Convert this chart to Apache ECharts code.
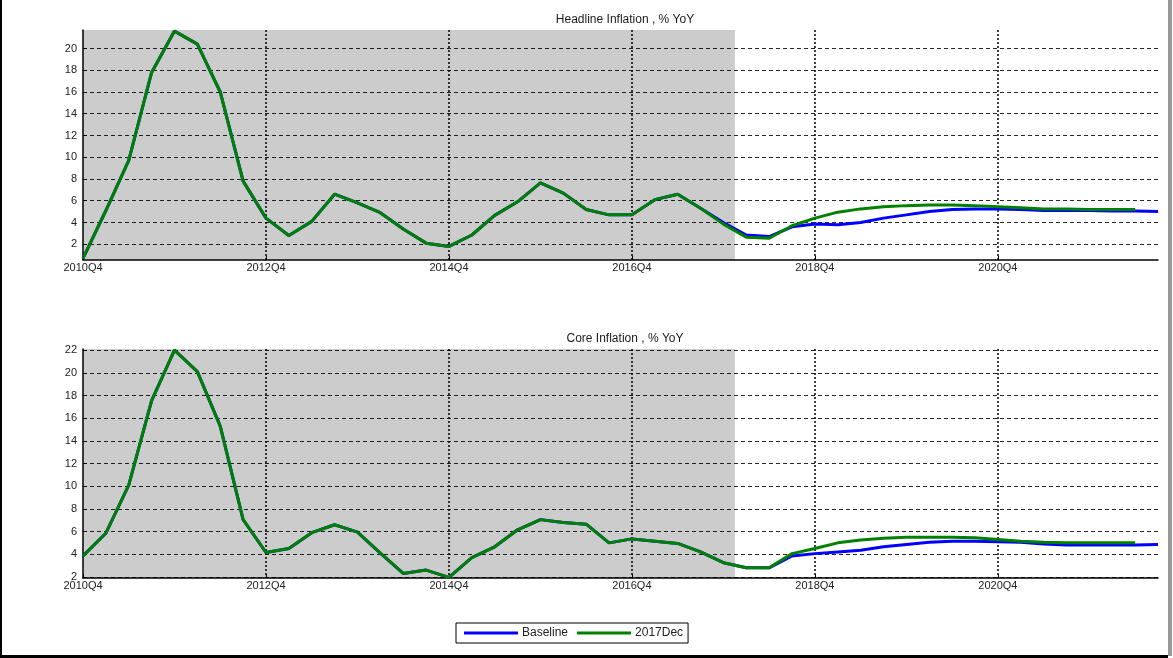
<!DOCTYPE html>
<html>
<head>
<meta charset="utf-8">
<script src="https://cdn.jsdelivr.net/npm/echarts@6/dist/echarts.min.js"></script>
<style>
html,body{margin:0;padding:0;background:#fff;}
#chart{width:1173px;height:658px;}
</style>
</head>
<body>
<div id="chart"></div>
<script>
// Quarter index 0 = 2010Q4
var tickLabels = ['2010Q4','2012Q4','2014Q4','2016Q4','2018Q4','2020Q4'];
var seriesNames = ['Baseline','2017Dec'];
var titles = ['Headline Inflation , % YoY','Core Inflation , % YoY'];
var headlineTicks = [2,4,6,8,10,12,14,16,18,20];
var coreTicks = [2,4,6,8,10,12,14,16,18,20,22];
var historyEnd = 28.5;

var headlineBaseline = [0.7,5.1,9.7,17.8,21.6,20.4,16.0,7.8,4.4,2.8,4.1,6.6,5.8,4.9,3.4,2.1,1.8,2.85,4.65,5.9,7.65,6.7,5.2,4.7,4.7,6.1,6.6,5.3,4.0,2.85,2.7,3.6,3.85,3.8,4.0,4.4,4.7,5.0,5.2,5.25,5.25,5.2,5.1,5.1,5.1,5.05,5.05,5.0];
var headlineDec = [0.7,5.1,9.7,17.8,21.6,20.4,16.0,7.8,4.4,2.8,4.1,6.6,5.8,4.9,3.4,2.1,1.8,2.85,4.65,5.9,7.65,6.7,5.2,4.7,4.7,6.1,6.6,5.3,3.85,2.65,2.55,3.7,4.4,4.95,5.25,5.45,5.55,5.6,5.6,5.55,5.45,5.35,5.25,5.25,5.2,5.2,5.2];
var coreBaseline = [3.85,5.85,10.1,17.55,22.0,20.1,15.3,7.05,4.15,4.5,5.9,6.6,5.95,4.1,2.3,2.6,1.95,3.7,4.65,6.15,7.05,6.8,6.65,5.0,5.35,5.15,4.95,4.2,3.25,2.8,2.8,3.85,4.05,4.2,4.35,4.65,4.85,5.05,5.15,5.15,5.1,5.05,4.9,4.8,4.8,4.8,4.8,4.85];
var coreDec = [3.85,5.85,10.1,17.55,22.0,20.1,15.3,7.05,4.15,4.5,5.9,6.6,5.95,4.1,2.3,2.6,1.95,3.7,4.65,6.15,7.05,6.8,6.65,5.0,5.35,5.15,4.95,4.2,3.25,2.8,2.8,4.05,4.5,5.0,5.25,5.4,5.5,5.5,5.5,5.45,5.3,5.15,5.05,5.0,5.0,5.0,5.0];

function pairs(arr){ return arr.map(function(v,i){ return [i,v]; }); }

var chart = echarts.init(document.getElementById('chart'));
var FONT = 'Liberation Sans, Arial, sans-serif';
var lastIdx = headlineBaseline.length - 1;

function xAxisDef(gi){
  return {
    type:'value', gridIndex:gi, min:0, max:lastIdx, interval:8, z:1,
    axisLine:{show:true, onZero:false, lineStyle:{color:'#000', width:1.5}},
    axisTick:{show:true, inside:true, length:4, lineStyle:{color:'#000'}},
    axisLabel:{color:'#222', fontFamily:FONT, fontSize:11, margin:2, showMaxLabel:false,
      formatter:function(v){ return (v % 8 === 0) ? (tickLabels[v/8] || '') : ''; }},
    splitLine:{show:true, showMinLine:false, showMaxLine:false, lineStyle:{color:'#000', type:[2,2], width:1.5}}
  };
}
function yAxisDef(gi, mn, mx, ticks){
  return {
    type:'value', gridIndex:gi, min:mn, max:mx, z:1,
    axisLine:{show:true, lineStyle:{color:'#000', width:1.5}},
    axisTick:{show:true, inside:true, length:4, customValues:ticks, lineStyle:{color:'#000'}},
    axisLabel:{color:'#222', fontFamily:FONT, fontSize:11, margin:6, customValues:ticks},
    splitLine:{show:true, lineStyle:{color:'#000', type:[4,3], width:1, opacity:0.85}}
  };
}
function lineSeries(name, data, gi, color, z, withArea){
  var s = {
    name:name, type:'line', xAxisIndex:gi, yAxisIndex:gi, data:pairs(data),
    showSymbol:false, symbol:'none', z:z,
    lineStyle:{color:color, width:3}, itemStyle:{color:color}
  };
  if(withArea){
    s.markArea = {silent:true, z:0, itemStyle:{color:'#cccccc'},
      data:[[{xAxis:0},{xAxis:historyEnd}]]};
  }
  return s;
}

var option = {
  animation:false,
  backgroundColor:'#fff',
  title:[
    {text:titles[0], left:620, top:9, textAlign:'center',
     textStyle:{fontFamily:FONT, fontSize:12, fontWeight:'normal', color:'#1a1a1a'}},
    {text:titles[1], left:620, top:328, textAlign:'center',
     textStyle:{fontFamily:FONT, fontSize:12, fontWeight:'normal', color:'#1a1a1a'}}
  ],
  grid:[
    {left:83, top:30, width:1075, height:230},
    {left:83, top:349, width:1075, height:229}
  ],
  xAxis:[xAxisDef(0), xAxisDef(1)],
  yAxis:[yAxisDef(0, 0.55, 21.7, headlineTicks), yAxisDef(1, 1.9, 22.1, coreTicks)],
  legend:{
    data:seriesNames, left:456, top:623, orient:'horizontal',
    icon:'rect', itemWidth:54, itemHeight:3, itemGap:9,
    padding:[4,5,4,8], borderColor:'#000', borderWidth:1, backgroundColor:'#fff',
    textStyle:{fontFamily:FONT, fontSize:12, color:'#222', padding:[0,0,0,-1]}
  },
  series:[
    lineSeries(seriesNames[0], headlineBaseline, 0, '#0000ff', 3, true),
    lineSeries(seriesNames[1], headlineDec, 0, '#008000', 4, false),
    lineSeries(seriesNames[0], coreBaseline, 1, '#0000ff', 3, true),
    lineSeries(seriesNames[1], coreDec, 1, '#008000', 4, false)
  ],
  graphic:[
    {type:'rect', shape:{x:0, y:0, width:2, height:658}, style:{fill:'#000'}},
    {type:'rect', shape:{x:0, y:655, width:1168, height:3}, style:{fill:'#000'}},
    {type:'rect', shape:{x:1168, y:0, width:4, height:656}, style:{fill:'#999'}}
  ]
};
chart.setOption(option);
</script>
</body>
</html>
